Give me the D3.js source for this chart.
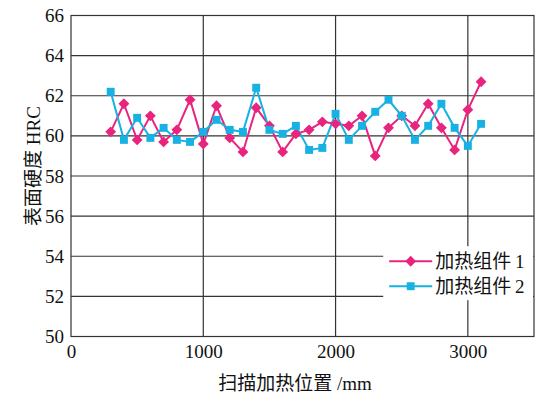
<!DOCTYPE html>
<html>
<head>
<meta charset="utf-8">
<script src="https://cdn.jsdelivr.net/npm/d3@7"></script>
<style>
  body { margin: 0; background: #fff; }
  svg text { font-family: "Liberation Serif", "Noto Sans CJK SC", serif; fill: #111; }
</style>
</head>
<body>
<div id="chart"></div>
<script>
// 扫描位置 (mm)
const positions = [300, 400, 500, 600, 700, 800, 900, 1000, 1100, 1200, 1300, 1400, 1500, 1600,
    1700, 1800, 1900, 2000, 2100, 2200, 2300, 2400, 2500, 2600, 2700, 2800, 2900, 3000, 3100];

// 表面硬度 HRC
const group1 = [60.2, 61.6, 59.8, 61.0, 59.7, 60.3, 61.8, 59.6, 61.5, 59.9, 59.2, 61.4, 60.5, 59.2,
    60.1, 60.3, 60.7, 60.6, 60.5, 61.0, 59.0, 60.4, 61.0, 60.5, 61.6, 60.4, 59.3, 61.3, 62.7];
const group2 = [62.2, 59.8, 60.9, 59.9, 60.4, 59.8, 59.7, 60.2, 60.8, 60.3, 60.2, 62.4, 60.3, 60.1,
    60.5, 59.3, 59.4, 61.1, 59.8, 60.5, 61.2, 61.8, 61.0, 59.8, 60.5, 61.6, 60.4, 59.5, 60.6];

const seriesNames = ["加热组件1", "加热组件2"];
const xTicks = [0, 1000, 2000, 3000];
const yTicks = [50, 52, 54, 56, 58, 60, 62, 64, 66];

const series = [
    { name: seriesNames[0], values: group1, color: "#e8247f", symbol: d3.symbolDiamond2, size: 75 },
    { name: seriesNames[1], values: group2, color: "#17b1e4", symbol: d3.symbolSquare2, size: 80 }
];

const W = 540, H = 397;
const margin = { top: 15.5, right: 6, bottom: 60.5, left: 71 };
const width = W - margin.left - margin.right,
    height = H - margin.top - margin.bottom;

const svg = d3.select("#chart").append("svg")
    .attr("width", W).attr("height", H);

const g = svg.append("g")
    .attr("transform", `translate(${margin.left},${margin.top})`);

const x = d3.scaleLinear().domain([0, 3500]).range([0, width]);
const y = d3.scaleLinear().domain([50, 66]).range([height, 0]);

// 网格线
g.append("g").selectAll("line")
    .data(yTicks)
    .enter().append("line")
    .attr("x1", 0).attr("x2", width)
    .attr("y1", d => y(d)).attr("y2", d => y(d))
    .attr("stroke", "#333").attr("stroke-width", 1.2);

g.append("g").selectAll("line")
    .data(xTicks.filter(d => d > 0))
    .enter().append("line")
    .attr("x1", d => x(d)).attr("x2", d => x(d))
    .attr("y1", 0).attr("y2", height)
    .attr("stroke", "#333").attr("stroke-width", 1.2);

g.append("rect")
    .attr("width", width).attr("height", height)
    .attr("fill", "none").attr("stroke", "#333").attr("stroke-width", 1.2);

// 坐标轴
const xAxis = g.append("g")
    .attr("transform", `translate(0,${height})`)
    .call(d3.axisBottom(x).tickValues(xTicks).tickFormat(d3.format("d")).tickSize(0).tickPadding(8));
const yAxis = g.append("g")
    .call(d3.axisLeft(y).tickValues(yTicks).tickSize(0).tickPadding(7));
[xAxis, yAxis].forEach(a => {
    a.select(".domain").remove();
    a.selectAll("text").style("font-size", "19px").style("font-family", "Liberation Serif").attr("fill", "#111");
});

// 折线与标记
const line = d3.line()
    .x((d, i) => x(positions[i]))
    .y(d => y(d));

series.forEach(s => {
    g.append("path")
        .datum(s.values)
        .attr("fill", "none")
        .attr("stroke", s.color)
        .attr("stroke-width", 2)
        .attr("d", line);
});

series.forEach(s => {
    g.append("g").selectAll("path")
        .data(s.values)
        .enter().append("path")
        .attr("transform", (d, i) => `translate(${x(positions[i])},${y(d)})`)
        .attr("d", d3.symbol().type(s.symbol).size(s.size))
        .attr("fill", s.color);
});

// 图例
const legend = g.append("g")
    .attr("transform", `translate(${x(2360)},${y(54.5)})`);
legend.append("rect")
    .attr("x", 0).attr("y", 0)
    .attr("width", width - x(2360) - 1).attr("height", 54)
    .attr("fill", "#fff");
series.forEach((s, i) => {
    const row = legend.append("g").attr("transform", `translate(6,${15 + i * 25})`);
    row.append("line")
        .attr("x1", 0).attr("x2", 43)
        .attr("stroke", s.color).attr("stroke-width", 2);
    row.append("path")
        .attr("transform", "translate(21.5,0)")
        .attr("d", d3.symbol().type(s.symbol).size(s.size))
        .attr("fill", s.color);
    row.append("text")
        .attr("x", 46).attr("dy", "0.35em")
        .style("font-size", "19px")
        .text(s.name.slice(0, 4) + "\u2009" + s.name.slice(4));
});

// 轴标题
svg.append("text")
    .attr("x", 295).attr("y", 390)
    .attr("text-anchor", "middle")
    .style("font-size", "19px")
    .text("扫描加热位置 /mm");

svg.append("text")
    .attr("transform", `translate(40,${margin.top + height / 2 - 10}) rotate(-90)`)
    .attr("text-anchor", "middle")
    .style("font-size", "19px")
    .text("表面硬度 HRC");
</script>
</body>
</html>
